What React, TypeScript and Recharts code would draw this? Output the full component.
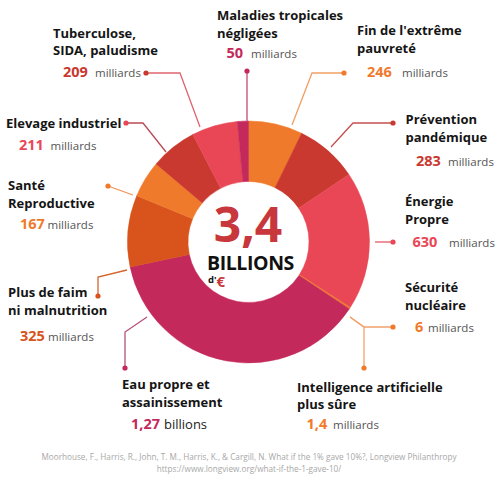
import { PieChart, Pie, Cell } from "recharts";

// Coût estimé de chaque grande cause, en milliards d'€
const CAUSES = [
  "Fin de l'extrême pauvreté",
  "Prévention pandémique",
  "Énergie Propre",
  "Sécurité nucléaire",
  "Intelligence artificielle plus sûre",
  "Eau propre et assainissement",
  "Plus de faim ni malnutrition",
  "Santé Reproductive",
  "Elevage industriel",
  "Tuberculose, SIDA, paludisme",
  "Maladies tropicales négligées",
];
const AMOUNTS = [246, 283, 630, 6, 1.4, 1270, 325, 167, 211, 209, 50];
const AMOUNT_TEXT = ["246", "283", "630", "6", "1,4", "1,27", "325", "167", "211", "209", "50"];
const UNITS = [
  "milliards",
  "milliards",
  "milliards",
  "milliards",
  "milliards",
  "billions",
  "milliards",
  "milliards",
  "milliards",
  "milliards",
  "milliards",
];
const TITLE_LINES = [
  ["Fin de l'extrême", "pauvreté"],
  ["Prévention", "pandémique"],
  ["Énergie", "Propre"],
  ["Sécurité", "nucléaire"],
  ["Intelligence artificielle", "plus sûre"],
  ["Eau propre et", "assainissement"],
  ["Plus de faim", "ni malnutrition"],
  ["Santé", "Reproductive"],
  ["Elevage industriel"],
  ["Tuberculose,", "SIDA, paludisme"],
  ["Maladies tropicales", "négligées"],
];
const TOTAL_TEXT = "3,4";
const SOURCE_LINES = [
  "Moorhouse, F., Harris, R., John, T. M., Harris, K., & Cargill, N. What if the 1% gave 10%?, Longview Philanthropy",
  "https://www.longview.org/what-if-the-1-gave-10/",
];

const SLICE_COLORS = [
  "#F07A2B", "#C9392F", "#E94756", "#F07A2B", "#F07A2B", "#C4295B",
  "#D9531C", "#F07A2B", "#C9392F", "#E94756", "#C4295B",
];
const VALUE_COLORS = [
  "#F07A2B", "#C9392F", "#E94756", "#F07A2B", "#F07A2B", "#C4295B",
  "#D9531C", "#F07A2B", "#E94756", "#C9392F", "#C4295B",
];
const LINE_COLORS = [
  "#F0A063", "#C4504F", "#E35866", "#F2A26E", "#F2A26E", "#B5507C",
  "#D4652E", "#F2914F", "#B84B55", "#E0646F", "#C54A6E",
];

// where each annotation sits: connector polyline, title start, value and unit
const LABEL_LAYOUT = [
  { path: [[292, 125], [312, 73], [344, 73]], x: 357, y: 35, vx: 367, ux: 402, vy: 77 },
  { path: [[331, 147], [353, 123], [393, 123]], x: 405.5, y: 124, vx: 416, ux: 448, vy: 166 },
  { path: [[375, 242], [393, 242]], x: 405, y: 206, vx: 412.5, ux: 449, vy: 247 },
  { path: [[350, 317], [364, 327], [393, 327]], x: 405, y: 292, vx: 415, ux: 428, vy: 332 },
  { path: [[350, 317], [364, 327], [364, 368]], x: 297, y: 391.5, vx: 306.5, ux: 333, vy: 429 },
  { path: [[147, 317], [125, 332], [125, 368]], x: 122, y: 389, vx: 131, ux: 164, vy: 429 },
  { path: [[127, 270], [98, 277], [98, 296]], x: 8, y: 297, vx: 20, ux: 48, vy: 341 },
  { path: [[133, 195], [108, 186]], x: 8, y: 190, vx: 20, ux: 47.5, vy: 229 },
  { path: [[166, 152], [143, 123], [126, 123]], x: 6, y: 127.5, vx: 19, ux: 50.5, vy: 149.5 },
  { path: [[200, 127], [180, 73], [146, 73]], x: 53, y: 37.7, vx: 63, ux: 95, vy: 77.3 },
  { path: [[247, 122], [247, 71]], x: 217, y: 20, vx: 226.5, ux: 251, vy: 58 },
];

const FONT = "'Open Sans', sans-serif";
const LINE_GAP = 17.6;

const data = CAUSES.map((name, i) => ({ name, value: AMOUNTS[i] }));

function renderLabel(props: any) {
  const i = props.index;
  const lay = LABEL_LAYOUT[i];
  const pts = lay.path.map((p) => p.join(",")).join(" ");
  const end = lay.path[lay.path.length - 1];

  return (
    <g key={`label-${i}`}>
      <polyline points={pts} fill="none" stroke={LINE_COLORS[i]} strokeWidth={1.3} />
      <circle cx={end[0]} cy={end[1]} r={2.6} fill={VALUE_COLORS[i]} />
      {TITLE_LINES[i].map((line, j) => (
        <text
          key={j}
          x={lay.x}
          y={lay.y + j * LINE_GAP}
          fontFamily={FONT}
          fontWeight={700}
          fontSize={13}
          fill="#151515"
        >
          {line}
        </text>
      ))}
      <text x={lay.vx} y={lay.vy} fontFamily={FONT} fontWeight={700} fontSize={14.5} fill={VALUE_COLORS[i]}>
        {AMOUNT_TEXT[i]}
      </text>
      <text
        x={lay.ux}
        y={lay.vy}
        fontFamily={FONT}
        fontSize={UNITS[i] === "billions" ? 13 : 11.5}
        fill={UNITS[i] === "billions" ? "#222" : "#555"}
      >
        {UNITS[i]}
      </text>
    </g>
  );
}

export default function App() {
  return (
    <div style={{ position: "relative", width: 499, height: 500, background: "#fff" }}>
      <style>{"body{margin:0}"}</style>
      <PieChart width={499} height={500} margin={{ top: 0, right: 0, bottom: 0, left: 0 }}>
        <Pie
          data={data}
          dataKey="value"
          nameKey="name"
          cx={248.5}
          cy={242}
          innerRadius={60.5}
          outerRadius={121}
          startAngle={90}
          endAngle={-270}
          label={renderLabel}
          labelLine={false}
          isAnimationActive={false}
        >
          {data.map((_, i) => (
            <Cell key={i} fill={SLICE_COLORS[i]} stroke={SLICE_COLORS[i]} strokeWidth={0.5} />
          ))}
        </Pie>
      </PieChart>

      <svg
        width={499}
        height={500}
        style={{ position: "absolute", top: 0, left: 0, pointerEvents: "none" }}
      >
        <text
          x={248}
          y={242}
          textAnchor="middle"
          fontFamily={FONT}
          fontWeight={700}
          fontSize={48}
          fill="#C8373B"
        >
          {TOTAL_TEXT}
        </text>
        <text x={207} y={269.5} fontFamily={FONT} fontWeight={700} fontSize={19.5} letterSpacing={-0.4} fill="#111">
          BILLIONS
        </text>
        <text x={208} y={283} fontFamily={FONT} fontWeight={700} fontSize={9.5} fill="#111">
          d'
        </text>
        <text x={216.5} y={287} fontFamily={FONT} fontWeight={700} fontSize={15} fill="#C8373B">
          €
        </text>
        {SOURCE_LINES.map((line, j) => (
          <text
            key={j}
            x={249}
            y={460 + j * 12}
            textAnchor="middle"
            fontFamily={FONT}
            fontSize={8.2}
            fill="#A8A8A8"
          >
            {line}
          </text>
        ))}
      </svg>
    </div>
  );
}
